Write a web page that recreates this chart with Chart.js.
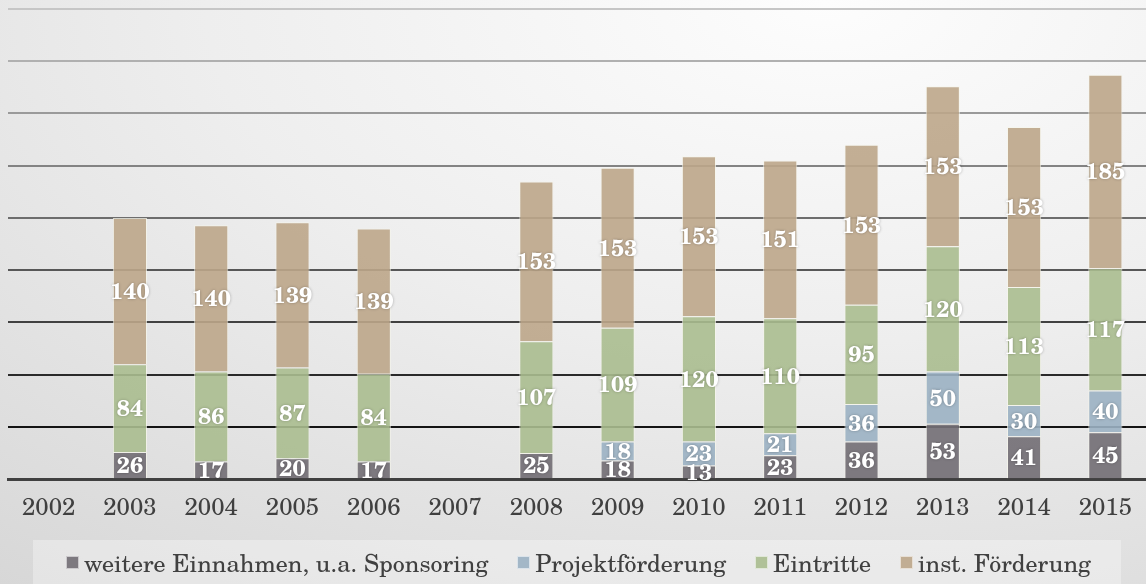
<!DOCTYPE html>
<html>
<head>
<meta charset="utf-8">
<script src="https://cdn.jsdelivr.net/npm/chart.js@4.4.1/dist/chart.umd.min.js"></script>
<style>
  html, body { margin: 0; padding: 0; }
  body {
    width: 1146px; height: 584px; overflow: hidden; position: relative;
    background: radial-gradient(ellipse 120% 130% at 72% 0%, #fdfdfd 0%, #eeeeee 45%, #d6d6d6 100%);
    font-family: "TeX Gyre Schola", "C059", "Century Schoolbook", "DejaVu Serif", serif;
  }
  #wrap { position: absolute; left: 0; top: 0; width: 1146px; height: 584px; }
  #legend {
    position: absolute; left: 33px; top: 540px; width: 1088px; height: 44px;
    background: rgba(255,255,255,0.32);
    box-sizing: border-box; padding-left: 33px;
    display: flex; justify-content: flex-start; align-items: center; gap: 29px;
    color: #404040; font-size: 24px;
  }
  #legend .item { display: flex; align-items: center; white-space: nowrap; }
  #legend .box { width: 13px; height: 13px; margin-right: 5px; box-sizing: border-box; border: 1px solid rgba(255,255,255,0.6); }
</style>
</head>
<body>
<div id="wrap"><canvas id="incomeChart" width="1146" height="584"></canvas></div>
<div id="legend"></div>
<script>
// Einnahmen pro Jahr (in Tsd.)
const years = ['2002', '2003', '2004', '2005', '2006', '2007', '2008', '2009', '2010', '2011', '2012', '2013', '2014', '2015'];
const sponsoring = [null, 26, 17, 20, 17, null, 25, 18, 13, 23, 36, 53, 41, 45];
const projekt = [null, null, null, null, null, null, null, 18, 23, 21, 36, 50, 30, 40];
const eintritte = [null, 84, 86, 87, 84, null, 107, 109, 120, 110, 95, 120, 113, 117];
const instFoerderung = [null, 140, 140, 139, 139, null, 153, 153, 153, 151, 153, 153, 153, 185];

const seriesNames = ['weitere Einnahmen, u.a. Sponsoring', 'Projektförderung', 'Eintritte', 'inst. Förderung'];
const seriesColors = ['rgba(116,112,118,0.92)', 'rgba(155,177,195,0.9)', 'rgba(170,188,143,0.9)', 'rgba(188,166,138,0.9)'];

const serif = '"TeX Gyre Schola", "C059", "Century Schoolbook", "DejaVu Serif", serif';

// white value labels in the middle of each segment
const segmentLabels = {
    id: 'segmentLabels',
    afterDatasetsDraw(chart) {
        const ctx = chart.ctx;
        ctx.save();
        ctx.font = 'bold 23px ' + serif;
        ctx.fillStyle = '#ffffff';
        ctx.textAlign = 'center';
        ctx.textBaseline = 'middle';
        ctx.shadowColor = 'rgba(0,0,0,0.3)';
        ctx.shadowBlur = 3;
        chart.data.datasets.forEach((ds, i) => {
            const meta = chart.getDatasetMeta(i);
            meta.data.forEach((bar, j) => {
                const v = ds.data[j];
                if (v == null) return;
                ctx.fillText(String(v), bar.x, (bar.y + bar.base) / 2 + 1);
            });
        });
        ctx.restore();
    }
};

function gridColor(ctx) {
    const v = ctx.tick ? ctx.tick.value : 0;
    if (v === 0) return 'rgba(0,0,0,0)';
    // light at the top, nearly black near the base
    const t = (v - 50) / 400;
    const c = Math.round(20 + t * 178);
    return `rgb(${c},${c},${c})`;
}

const ctx = document.getElementById('incomeChart');
new Chart(ctx, {
    type: 'bar',
    data: {
        labels: years,
        datasets: [sponsoring, projekt, eintritte, instFoerderung].map((d, i) => ({
            label: seriesNames[i],
            data: d,
            backgroundColor: seriesColors[i],
            borderColor: 'rgba(245,245,235,0.75)',
            borderWidth: 1,
            barPercentage: 0.84,
            categoryPercentage: 0.5
        }))
    },
    options: {
        responsive: false,
        animation: false,
        layout: { padding: { left: 8, right: 0, top: 9, bottom: 56 } },
        plugins: {
            legend: { display: false },
            tooltip: { enabled: false }
        },
        scales: {
            x: {
                stacked: true,
                grid: { display: false },
                border: { display: true, color: '#404040', width: 3 },
                ticks: { color: '#404040', font: { family: serif, size: 24 }, padding: 6 }
            },
            y: {
                stacked: true,
                min: 0,
                max: 450,
                ticks: { display: false, stepSize: 50 },
                border: { display: false },
                grid: { color: gridColor, lineWidth: 2, drawTicks: false }
            }
        }
    },
    plugins: [segmentLabels]
});

// legend
const legend = document.getElementById('legend');
seriesNames.forEach((name, i) => {
    const item = document.createElement('div');
    item.className = 'item';
    const box = document.createElement('span');
    box.className = 'box';
    box.style.background = seriesColors[i];
    const txt = document.createElement('span');
    txt.textContent = name;
    item.appendChild(box);
    item.appendChild(txt);
    legend.appendChild(item);
});
</script>
</body>
</html>
